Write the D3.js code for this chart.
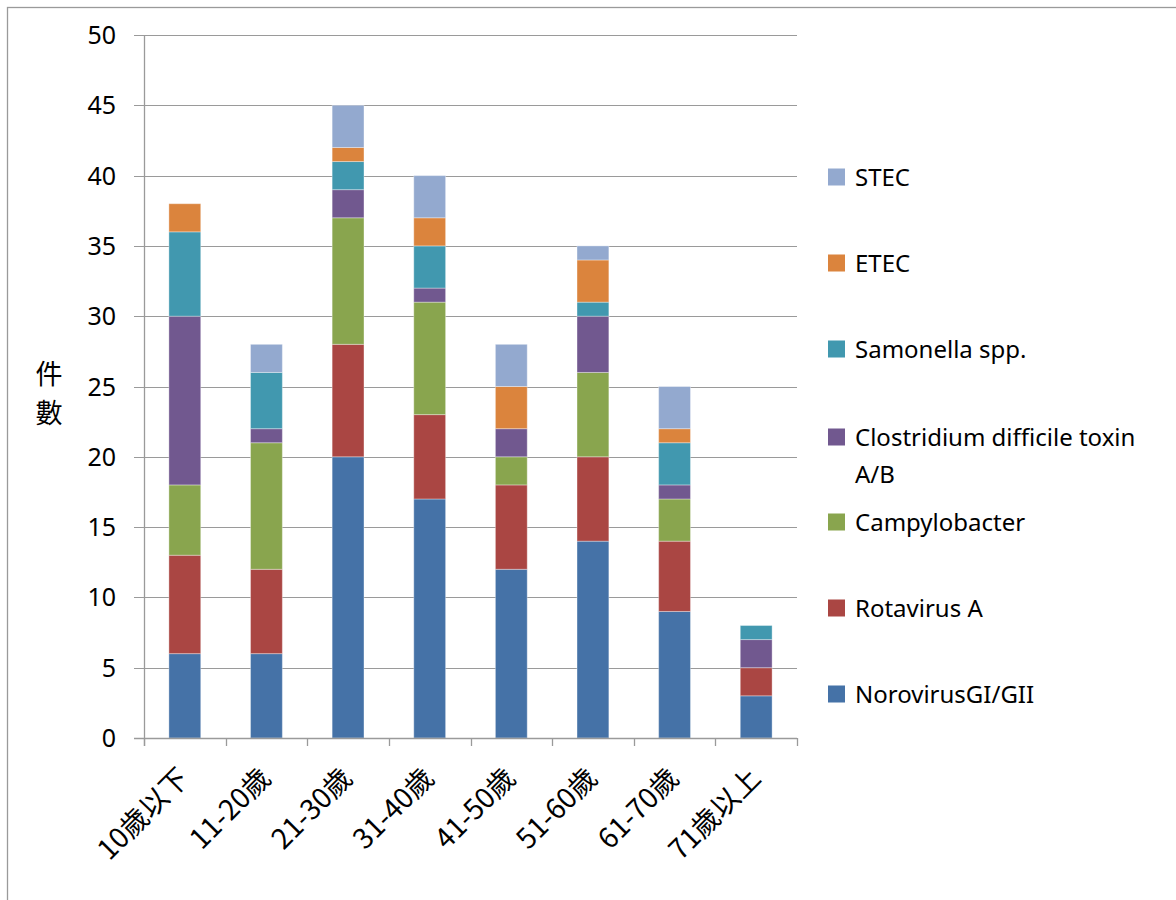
<!DOCTYPE html>
<meta charset="utf-8">
<style>
body { margin: 0; background: #fff; }
svg { display: block; }
text { font-family: "Noto Sans", "Noto Sans CJK TC", sans-serif; fill: #000; }
.cjk { font-family: "Noto Sans CJK TC", "Noto Sans", sans-serif; }
</style>
<body>
<script src="https://cdn.jsdelivr.net/npm/d3@7"></script>
<script>
// categories and series (counts per age group)
var categories = ["10歲以下", "11-20歲", "21-30歲", "31-40歲", "41-50歲", "51-60歲", "61-70歲", "71歲以上"];
var norovirus     = [6, 6, 20, 17, 12, 14, 9, 3];
var rotavirus     = [7, 6, 8, 6, 6, 6, 5, 2];
var campylobacter = [5, 9, 9, 8, 2, 6, 3, 0];
var clostridium   = [12, 1, 2, 1, 2, 4, 1, 2];
var salmonella    = [6, 4, 2, 3, 0, 1, 3, 1];
var etec          = [2, 0, 1, 2, 3, 3, 1, 0];
var stec          = [0, 2, 3, 3, 3, 1, 3, 0];
var seriesNames = ["NorovirusGI/GII", "Rotavirus A", "Campylobacter", "Clostridium difficile toxin A/B", "Samonella spp.", "ETEC", "STEC"];
var seriesValues = [norovirus, rotavirus, campylobacter, clostridium, salmonella, etec, stec];
var colors = ["#4572a7", "#aa4643", "#89a54e", "#71588f", "#4198af", "#db843d", "#93a9cf"];
var yTicks = [0, 5, 10, 15, 20, 25, 30, 35, 40, 45, 50];

var W = 1176, H = 900;
var plot = {left: 144, right: 797, top: 35, bottom: 738};

var svg = d3.select("body").append("svg")
    .attr("width", W)
    .attr("height", H);

// outer chart frame
svg.append("rect")
    .attr("x", 7.5).attr("y", 7.5)
    .attr("width", 1200).attr("height", 1000)
    .attr("fill", "none")
    .attr("stroke", "#9a9a9a")
    .attr("stroke-width", 1.3);

var table = categories.map(function(c, i) {
  var row = {cat: c};
  seriesNames.forEach(function(s, j) { row[s] = seriesValues[j][i]; });
  return row;
});

var x = d3.scaleBand()
    .domain(categories)
    .range([plot.left, plot.right])
    .padding(0);
var y = d3.scaleLinear()
    .domain([0, 50])
    .range([plot.bottom, plot.top]);

// gridlines
svg.append("g")
  .selectAll("line")
  .data(yTicks)
  .enter().append("line")
    .attr("x1", plot.left - 10)
    .attr("x2", plot.right)
    .attr("y1", function(d) { return Math.round(y(d)) + 0.5; })
    .attr("y2", function(d) { return Math.round(y(d)) + 0.5; })
    .attr("stroke", "#9a9a9a")
    .attr("stroke-width", 1.2);

// y tick labels
svg.append("g")
  .selectAll("text")
  .data(yTicks)
  .enter().append("text")
    .attr("x", 116)
    .attr("y", function(d) { return y(d); })
    .attr("dy", "0.36em")
    .attr("text-anchor", "end")
    .attr("font-size", 25)
    .text(function(d) { return d; });

// stacked bars
var stack = d3.stack().keys(seriesNames);
var layers = stack(table);
var barW = x.bandwidth() * 0.39;

svg.append("g")
  .selectAll("g")
  .data(layers)
  .enter().append("g")
    .attr("fill", function(d, i) { return colors[i]; })
  .selectAll("rect")
  .data(function(d) { return d.filter(function(p) { return p[1] > p[0]; }); })
  .enter().append("rect")
    .attr("x", function(d) { return x(d.data.cat) + (x.bandwidth() - barW) / 2; })
    .attr("width", barW)
    .attr("y", function(d) { return y(d[1]); })
    .attr("height", function(d) { return y(d[0]) - y(d[1]); })
    .attr("stroke", "rgba(255,255,255,0.35)")
    .attr("stroke-width", 1);

// axes lines
svg.append("line")
    .attr("x1", plot.left + 0.5).attr("x2", plot.left + 0.5)
    .attr("y1", plot.top).attr("y2", plot.bottom + 8)
    .attr("stroke", "#9a9a9a").attr("stroke-width", 1.3);
svg.append("line")
    .attr("x1", plot.left - 10).attr("x2", plot.right)
    .attr("y1", plot.bottom + 0.5).attr("y2", plot.bottom + 0.5)
    .attr("stroke", "#9a9a9a").attr("stroke-width", 1.3);

// x tick marks at band edges
var edges = categories.map(function(c) { return x(c); }).concat([plot.right]);
svg.append("g")
  .selectAll("line")
  .data(edges)
  .enter().append("line")
    .attr("x1", function(d) { return Math.round(d) + 0.5; })
    .attr("x2", function(d) { return Math.round(d) + 0.5; })
    .attr("y1", plot.bottom)
    .attr("y2", plot.bottom + 8)
    .attr("stroke", "#9a9a9a").attr("stroke-width", 1.3);

// x labels, rotated
svg.append("g")
  .selectAll("text")
  .data(categories)
  .enter().append("text")
    .attr("class", "cjk")
    .attr("text-anchor", "end")
    .attr("font-size", 28)
    .attr("transform", function(d) {
      return "translate(" + (x(d) + x.bandwidth() / 2 + 6) + "," + (plot.bottom + 42) + ") rotate(-45)";
    })
    .text(function(d) { return d; });

// y axis title, stacked characters
svg.append("text")
    .attr("class", "cjk")
    .attr("x", 49).attr("y", 384)
    .attr("text-anchor", "middle")
    .attr("font-size", 27)
    .text("件");
svg.append("text")
    .attr("class", "cjk")
    .attr("x", 49).attr("y", 423)
    .attr("text-anchor", "middle")
    .attr("font-size", 27)
    .text("數");

// legend (reverse order, top is STEC)
var legendY = [177, 263, 349, 437, 522, 608, 694];
var legendItems = seriesNames.map(function(s, i) { return {name: s, color: colors[i]}; }).reverse();
var lg = svg.append("g")
  .selectAll("g")
  .data(legendItems)
  .enter().append("g")
    .attr("transform", function(d, i) { return "translate(828," + legendY[i] + ")"; });
lg.append("rect")
    .attr("x", 0).attr("y", -8.5)
    .attr("width", 17).attr("height", 17)
    .attr("fill", function(d) { return d.color; });
lg.each(function(d) {
  var g = d3.select(this);
  var lines = d.name === "Clostridium difficile toxin A/B" ? ["Clostridium difficile toxin", "A/B"] : [d.name];
  lines.forEach(function(t, k) {
    g.append("text")
      .attr("x", 27)
      .attr("y", k * 37)
      .attr("dy", "0.36em")
      .attr("font-size", 24)
      .text(t);
  });
});
</script>
</body>
